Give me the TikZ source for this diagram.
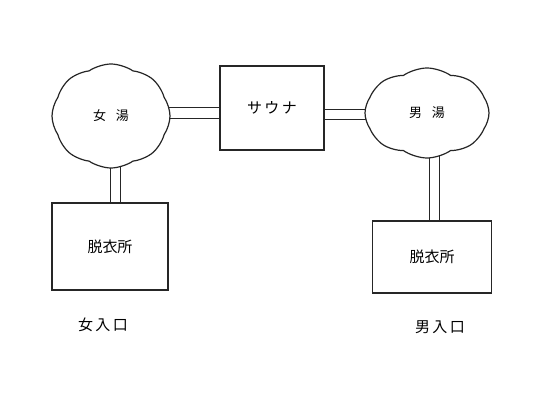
\documentclass[tikz,border=0pt]{standalone}
\usepackage{fontspec}
\newfontfamily\jp{Noto Sans CJK JP}
\usetikzlibrary{shapes.symbols,backgrounds}
\tikzset{
  ink/.style={draw=black!85, line width=1.2pt},
  bath/.style={ink, cloud, cloud puffs=8, cloud puff arc=70, fill=white, inner sep=0pt, font=\jp\fontsize{13}{15}\selectfont},
  room/.style={ink, rectangle, fill=white, font=\jp\fontsize{15}{17}\selectfont},
  label/.style={font=\jp\fontsize{15}{17}\selectfont},
  pipe/.style={draw=black!85, line width=1.2pt, double=white}
}
\begin{document}
\begin{tikzpicture}[x=1pt,y=-1pt]
\useasboundingbox (0,0) rectangle (550,403);
\node[bath, minimum width=118pt, minimum height=104pt] (onna) at (111,116) {女\hspace{10pt}湯};
\node[bath, minimum width=124pt, minimum height=90pt] (otoko) at (427,113) {男\hspace{10pt}湯};
\node[room, minimum width=104pt, minimum height=84pt] (sauna) at (272,108) {サ\,ウ\,ナ};
\node[room, minimum width=116pt, minimum height=87pt] (datsu1) at (110,246.5) {脱衣所};
\node[room, minimum width=119pt, minimum height=72pt] (datsu2) at (432,257) {脱衣所};
\node[label] (iri1) at (103,325) {女\,入\,口};
\node[label] (iri2) at (440,327) {男\,入\,口};
\begin{scope}[on background layer]
\draw[pipe, double distance=10.5pt] ([yshift=-5pt]sauna.west) -- ([xshift=-8pt,yshift=-5pt]sauna.west -| onna.east);
\draw[pipe, double distance=8.5pt] ([yshift=-6.5pt]sauna.east) -- ([xshift=8pt,yshift=-6.5pt]sauna.east -| otoko.west);
\draw[pipe, double distance=9.5pt] ([xshift=5.5pt]datsu1.north) -- ([xshift=5.5pt,yshift=8pt]datsu1.north |- onna.south);
\draw[pipe, double distance=9.5pt] ([xshift=2.5pt]datsu2.north) -- ([xshift=2.5pt,yshift=8pt]datsu2.north |- otoko.south);
\end{scope}
\end{tikzpicture}
\end{document}
